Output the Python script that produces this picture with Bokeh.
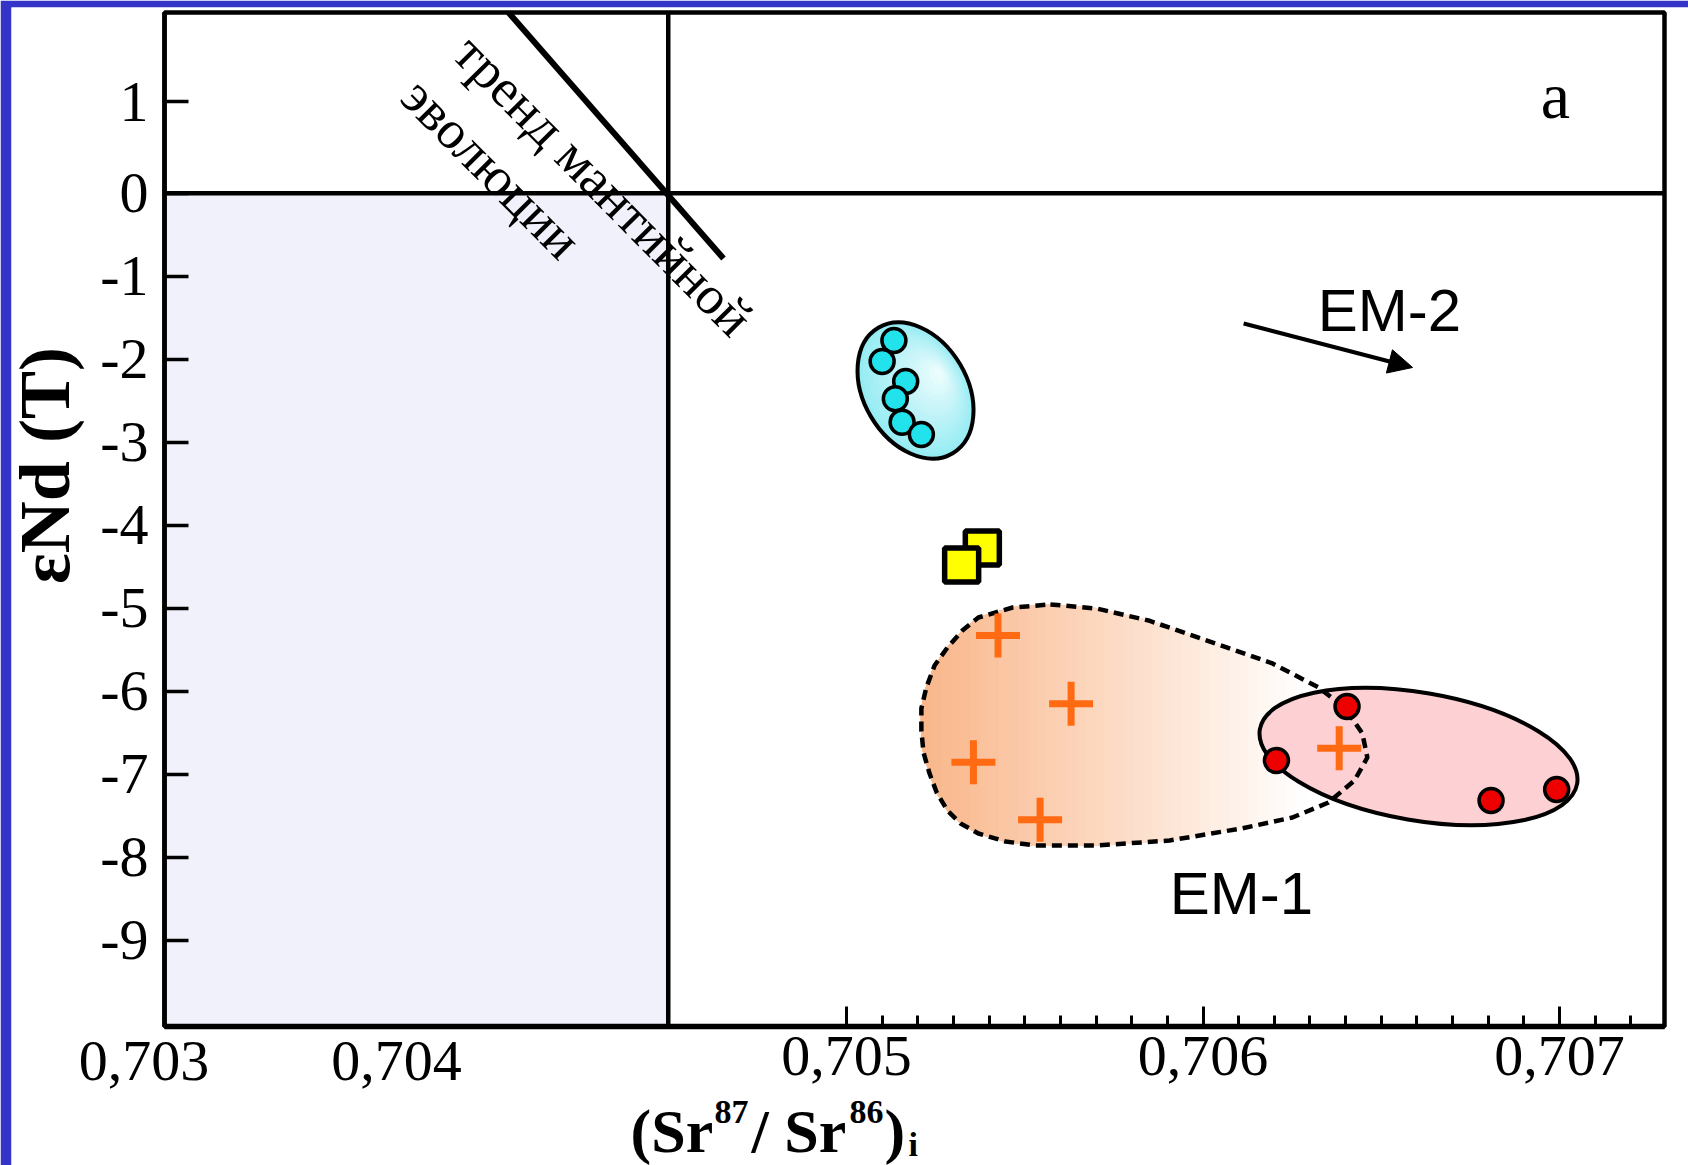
import math
from bokeh.plotting import figure
from bokeh.models import (Range1d, FixedTicker, BoxAnnotation, Label, Arrow, NormalHead)
from bokeh.embed import file_html
from bokeh.resources import INLINE

# ---------------- data ----------------
x_major = [0.705, 0.706, 0.707]
x_major_labels = ["0,705", "0,706", "0,707"]
x_minor = [0.7051, 0.7052, 0.7053, 0.7054, 0.7055, 0.7056, 0.7057, 0.7058, 0.7059,
           0.7061, 0.7062, 0.7063, 0.7064, 0.7065, 0.7066, 0.7067, 0.7068, 0.7069,
           0.7071, 0.7072]
x_extra_labels = ["0,703", "0,704"]
y_tick_pos = [1.1, 0, -1, -2, -3, -4, -5, -6, -7, -8, -9]
y_tick_labels = ["1", "0", "-1", "-2", "-3", "-4", "-5", "-6", "-7", "-8", "-9"]

bulk_earth_sr = 0.7045
bulk_earth_nd = 0.0

trend_x = [0.704052, 0.704655]
trend_y = [2.177, -0.787]

cyan_x = [0.705133, 0.705100, 0.705166, 0.705137, 0.705156, 0.705210]
cyan_y = [-1.775, -2.028, -2.269, -2.477, -2.759, -2.907]

yellow_x = [0.705381, 0.705323]
yellow_y = [-4.275, -4.480]

cross_x = [0.705425, 0.705630, 0.705356, 0.705543, 0.706382]
cross_y = [-5.329, -6.152, -6.855, -7.549, -6.687]

red_x = [0.706404, 0.706206, 0.706808, 0.706992]
red_y = [-6.184, -6.835, -7.317, -7.184]

# fields (envelopes)
cyan_field = dict(x=0.7051936, y=-2.377, w=0.000290, h=1.757, angle=0.536)
pink_field = dict(x=0.7066045, y=-6.787, w=0.000903, h=1.542, angle=-0.17)

em1_x = [0.705572, 0.705701, 0.705847, 0.706035, 0.706195, 0.706324, 0.706397,
         0.706447, 0.706461, 0.706425, 0.706352, 0.706251, 0.706108, 0.705906,
         0.705701, 0.705530, 0.705446, 0.705370, 0.705320, 0.705283, 0.705253,
         0.705233, 0.705216, 0.705210, 0.705210, 0.705224, 0.705247, 0.705283,
         0.705325, 0.705370, 0.705466]
em1_y = [-4.955, -5.004, -5.148, -5.425, -5.666, -5.955, -6.196,
         -6.510, -6.799, -7.076, -7.341, -7.522, -7.654, -7.799,
         -7.859, -7.859, -7.811, -7.715, -7.594, -7.437, -7.221,
         -6.992, -6.739, -6.474, -6.208, -5.955, -5.690, -5.474,
         -5.269, -5.112, -4.992]

em2_arrow = dict(x0=0.706114, y0=-1.570, x1=0.706588, y1=-2.100)

# plot box (axes extent)
BOX_X0, BOX_X1 = 0.703087, 0.7072945
BOX_Y0, BOX_Y1 = -10.040, 2.177

# ---------------- geometry helpers (page pixels -> data) ----------------
BL, BT, BW, BH = 164.0, 12.0, 1500.0, 1014.0      # plot box on the page (px)
SX = BW / (BOX_X1 - BOX_X0)
SY = BH / (BOX_Y1 - BOX_Y0)


def xd(px):
    return BOX_X0 + (px - BL) / SX


def yd(py):
    return BOX_Y1 - (py - BT) / SY


def lerp_color(c0, c1, t):
    return "#%02x%02x%02x" % tuple(int(round(a + (b - a) * t)) for a, b in zip(c0, c1))


def clip_left(xs, ys, xc):
    ox, oy = [], []
    n = len(xs)
    for i in range(n):
        x1, y1 = xs[i], ys[i]
        x2, y2 = xs[(i + 1) % n], ys[(i + 1) % n]
        in1, in2 = x1 <= xc, x2 <= xc
        if in1:
            ox.append(x1)
            oy.append(y1)
        if in1 != in2:
            t = (xc - x1) / (x2 - x1)
            ox.append(xc)
            oy.append(y1 + t * (y2 - y1))
    return ox, oy


SERIF = "Liberation Serif"
SANS = "Liberation Sans"
BLUE = "#3434c8"

W, H = 1688, 1165
ML, MT = 11, 7   # blue page edge strips
p = figure(width=W, height=H, title=None,
           x_range=Range1d(xd(ML), xd(W)), y_range=Range1d(yd(H), yd(MT)),
           output_backend="svg", toolbar_location=None,
           min_border_left=ML, min_border_top=MT, min_border_right=0, min_border_bottom=0)
p.grid.visible = False
p.background_fill_color = "white"
p.border_fill_color = BLUE
p.outline_line_color = None

# axes fixed on the plot box
p.xaxis.fixed_location = BOX_Y0
p.xaxis.bounds = (BOX_X0, BOX_X1)
p.xaxis.ticker = FixedTicker(ticks=x_major, minor_ticks=x_minor)
p.xaxis.major_label_overrides = {v: s for v, s in zip(x_major, x_major_labels)}
p.xaxis.major_tick_in = 20
p.xaxis.major_tick_out = 0
p.xaxis.minor_tick_in = 11
p.xaxis.minor_tick_out = 0
p.xaxis.major_tick_line_width = 3
p.xaxis.minor_tick_line_width = 3
p.xaxis.axis_line_width = 5.5
p.xaxis.major_label_standoff = 10
p.xaxis.major_label_text_font = SERIF
p.xaxis.major_label_text_font_size = "58px"
p.xaxis.major_label_text_color = "black"

p.yaxis.fixed_location = BOX_X0
p.yaxis.bounds = (BOX_Y0, BOX_Y1)
p.yaxis.ticker = FixedTicker(ticks=y_tick_pos, minor_ticks=[])
p.yaxis.major_label_overrides = {v: s for v, s in zip(y_tick_pos, y_tick_labels)}
p.yaxis.major_tick_in = 24
p.yaxis.major_tick_out = 0
p.yaxis.major_tick_line_width = 3.5
p.yaxis.axis_line_width = 4.5
p.yaxis.major_label_standoff = 16
p.yaxis.major_label_text_font = SERIF
p.yaxis.major_label_text_font_size = "58px"
p.yaxis.major_label_text_color = "black"

# shaded quadrant and reference lines
p.add_layout(BoxAnnotation(left=BOX_X0, bottom=BOX_Y0, right=bulk_earth_sr, top=bulk_earth_nd,
                           fill_color="#f1f1fc", fill_alpha=1, line_alpha=0, level="underlay"))
p.segment(x0=[BOX_X0, bulk_earth_sr], y0=[bulk_earth_nd, BOX_Y0],
          x1=[BOX_X1, bulk_earth_sr], y1=[bulk_earth_nd, BOX_Y1],
          line_color="black", line_width=4.5)

# mantle trend
p.line(trend_x, trend_y, line_color="black", line_width=6)
for txt, cx, cy in [("тренд мантийной", 603, 185), ("эволюции", 491, 168)]:
    p.add_layout(Label(x=xd(cx), y=yd(cy), text=txt, angle=-0.79, text_align="center",
                       text_baseline="middle", text_font=SERIF, text_font_size="54px",
                       text_color="black"))

# cyan field with radial gradient
edge_c, mid_c = (150, 236, 243), (242, 253, 254)
hx, hy = xd(940), yd(372)
lay_x, lay_y, lay_w, lay_h, lay_c = [], [], [], [], []
NL = 16
for i in range(NL):
    s = 1.0 - i * (0.92 / (NL - 1))
    lay_x.append(hx + s * (cyan_field["x"] - hx))
    lay_y.append(hy + s * (cyan_field["y"] - hy))
    lay_w.append(s * cyan_field["w"])
    lay_h.append(s * cyan_field["h"])
    lay_c.append(lerp_color(edge_c, mid_c, 1 - s))
p.ellipse(x=lay_x, y=lay_y, width=lay_w, height=lay_h, angle=cyan_field["angle"],
          fill_color=lay_c, line_color=None)
p.ellipse(x=[cyan_field["x"]], y=[cyan_field["y"]], width=cyan_field["w"], height=cyan_field["h"],
          angle=cyan_field["angle"], fill_alpha=0, line_color="black", line_width=4)
p.scatter(cyan_x, cyan_y, marker="circle", size=24, fill_color="#22e2ec",
          line_color="black", line_width=3.5)

# yellow squares
p.scatter(yellow_x, yellow_y, marker="square", size=34, fill_color="#ffff00",
          line_color="black", line_width=5.5)

# EM-1 field with horizontal gradient
g0, g1 = xd(921), xd(1305)
left_c, right_c = (249, 182, 138), (255, 255, 255)
NB = 40
pxs, pys, pcs = [list(em1_x)], [list(em1_y)], ["#ffffff"]
for k in range(NB - 1, -1, -1):
    xc = g0 + (k + 1) * (g1 - g0) / NB
    cx_, cy_ = clip_left(em1_x, em1_y, xc)
    if len(cx_) >= 3:
        pxs.append(cx_)
        pys.append(cy_)
        pcs.append(lerp_color(left_c, right_c, (k + 0.5) / NB))
p.patches(pxs, pys, fill_color=pcs, line_color=pcs, line_width=1)

# pink field
p.ellipse(x=[pink_field["x"]], y=[pink_field["y"]], width=pink_field["w"], height=pink_field["h"],
          angle=pink_field["angle"], fill_color="#fdd0d3", line_color="black", line_width=4)

# EM-1 dashed outline
p.line(list(em1_x) + [em1_x[0]], list(em1_y) + [em1_y[0]], line_color="black",
       line_width=4.5, line_dash="10 6")

# orange crosses, red points
p.scatter(cross_x, cross_y, marker="cross", size=44, line_color="#ff6a13", line_width=7)
p.scatter(red_x, red_y, marker="circle", size=24, fill_color="#ee0000",
          line_color="black", line_width=3.5)

# plot box top/right edges
p.quad(left=[BOX_X0], right=[BOX_X1], bottom=[BOX_Y0], top=[BOX_Y1],
       fill_alpha=0, line_color="black", line_width=4.5)

# EM-2 arrow and labels
p.add_layout(Arrow(end=NormalHead(size=24, fill_color="black", line_color="black"),
                   x_start=em2_arrow["x0"], y_start=em2_arrow["y0"],
                   x_end=em2_arrow["x1"], y_end=em2_arrow["y1"],
                   line_color="black", line_width=4))
p.add_layout(Label(x=xd(1389), y=yd(310), text="EM-2", text_align="center",
                   text_baseline="middle", text_font=SANS, text_font_size="60px",
                   text_color="black"))
p.add_layout(Label(x=xd(1241), y=yd(893), text="EM-1", text_align="center",
                   text_baseline="middle", text_font=SANS, text_font_size="60px",
                   text_color="black"))
p.add_layout(Label(x=xd(1555), y=yd(95), text="a", text_align="center",
                   text_baseline="middle", text_font=SERIF, text_font_size="66px",
                   text_color="black"))

# extra x tick labels on the compressed left part
for txt, cx in zip(x_extra_labels, [143.5, 396]):
    p.add_layout(Label(x=xd(cx), y=yd(1060), text=txt, text_align="center",
                       text_baseline="middle", text_font=SERIF, text_font_size="58px",
                       text_color="black"))

# y axis title
p.add_layout(Label(x=xd(44), y=yd(465), text="εNd (T)", angle=math.pi / 2,
                   text_align="center", text_baseline="middle", text_font=SERIF,
                   text_font_size="72px", text_font_style="bold", text_color="black"))

# x axis title (with super/subscripts)
for txt, lx, my, fs in [("(Sr", 630, 1130, "62px"), ("87", 714, 1111, "34px"),
                        ("/ Sr", 751, 1130, "62px"), ("86", 849, 1111, "34px"),
                        (")", 884, 1130, "62px"), ("i", 908, 1144, "34px")]:
    p.add_layout(Label(x=xd(lx), y=yd(my), text=txt, text_align="left",
                       text_baseline="middle", text_font=SERIF,
                       text_font_size=fs, text_font_style="bold", text_color="black"))

open("out.html", "w").write(file_html(p, INLINE))
